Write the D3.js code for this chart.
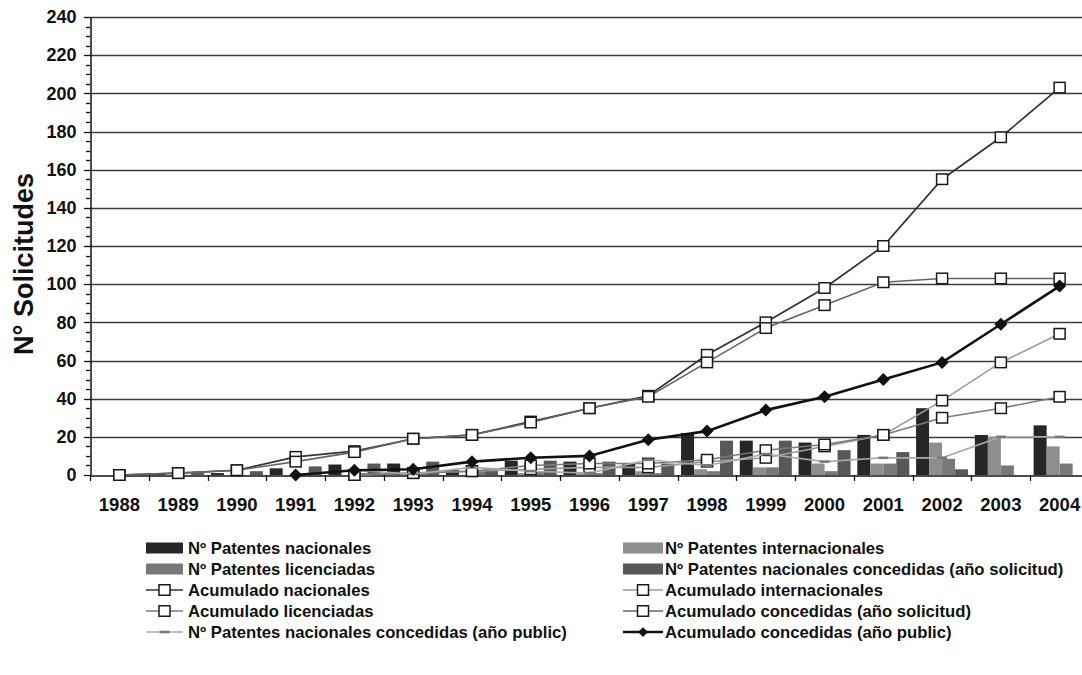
<!DOCTYPE html>
<html>
<head>
<meta charset="utf-8">
<script src="https://cdn.jsdelivr.net/npm/d3@7"></script>
<style>
  html, body { margin: 0; padding: 0; background: #fff; }
  svg { display: block; }
  text { font-family: "Liberation Sans", Arial, sans-serif; fill: #111; }
</style>
</head>
<body>
<svg id="chart" width="1082" height="675"></svg>
<script>
// ---------- DATA ----------
const years = ["1988","1989","1990","1991","1992","1993","1994","1995","1996","1997","1998","1999","2000","2001","2002","2003","2004"];
const yTicks = [0,20,40,60,80,100,120,140,160,180,200,220,240];

// bars
const patNacionales      = [0,1,1,3.5,5.5,6,2.5,7.5,7,6,22,18,17,21,35,21,26];
const patInternacionales = [0,0,0,0,0,1,0,1,1,2,3,4,6,6,17,20,15];
const patLicenciadas     = [0,0,0,0,1,1,2,2,1,1,2,4,2,6,8.5,5,6];
const patConcedidasSol   = [0,1,2,4.5,6,7,3.5,7.5,7,6,18,18,13,12,3,0,0];

// lines
const acumNacionales      = [0,1,2.5,9.5,12.5,19,21,28,35,41.5,63,80,98,120,155,177,203];
const acumInternacionales = [null,null,null,null,0,1,2,3,4,4,7,9,15,21,39,59,74];
const acumLicenciadas     = [null,null,null,null,0,1,2,5,6,6,8,13,16,21,30,35,41];
const acumConcedidasSol   = [0,1,2.5,7,12,19,21,27.5,35,41,59,77,89,101,103,103,103];
const patConcedidasPub    = [null,null,null,0,2.5,0.5,4,2,1,8,5,11,7,9,9,20,20];
const acumConcedidasPub   = [null,null,null,0,2.5,3,7,9,10,18.5,23,34,41,50,59,79,99];

const barSeries = [
  {name: "Nº Patentes nacionales", values: patNacionales, color: "#262626"},
  {name: "Nº Patentes internacionales", values: patInternacionales, color: "#8e8e8e"},
  {name: "Nº Patentes licenciadas", values: patLicenciadas, color: "#787878"},
  {name: "Nº Patentes nacionales concedidas (año solicitud)", values: patConcedidasSol, color: "#585858"}
];
const lineSeries = [
  {name: "Acumulado nacionales", values: acumNacionales, color: "#333333", width: 1.7, marker: "square"},
  {name: "Acumulado internacionales", values: acumInternacionales, color: "#9a9a9a", width: 1.6, marker: "square"},
  {name: "Acumulado licenciadas", values: acumLicenciadas, color: "#7a7a7a", width: 1.6, marker: "square"},
  {name: "Acumulado concedidas (año solicitud)", values: acumConcedidasSol, color: "#666666", width: 1.6, marker: "square"},
  {name: "Nº Patentes nacionales concedidas (año public)", values: patConcedidasPub, color: "#aaaaaa", width: 1.6, marker: "dash"},
  {name: "Acumulado concedidas (año public)", values: acumConcedidasPub, color: "#111111", width: 2.6, marker: "diamond"}
];

// ---------- LAYOUT ----------
const svg = d3.select("#chart");
const plot = {left: 90, right: 1089, top: 17, bottom: 475};

const x0 = d3.scaleBand().domain(years).range([plot.left, plot.right]).padding(0);
const x1 = d3.scaleBand().domain(d3.range(barSeries.length)).range([0, x0.bandwidth()]).paddingInner(0).paddingOuter(0.26);
const y = d3.scaleLinear().domain([0, 240]).range([plot.bottom, plot.top]);
const cx = d => x0(d) + x0.bandwidth() / 2;

// gridlines
svg.append("g").selectAll("line").data(yTicks.filter(t => t > 0)).join("line")
  .attr("x1", plot.left).attr("x2", 1082)
  .attr("y1", d => Math.round(y(d)) + 0.5).attr("y2", d => Math.round(y(d)) + 0.5)
  .attr("stroke", "#3c3c3c").attr("stroke-width", 1.6);

// bars
const gBars = svg.append("g");
barSeries.forEach((s, i) => {
  gBars.append("g").selectAll("rect").data(years).join("rect")
    .attr("x", (d) => x0(d) + x1(i))
    .attr("width", x1.bandwidth())
    .attr("y", (d, j) => y(s.values[j]))
    .attr("height", (d, j) => y(0) - y(s.values[j]))
    .attr("fill", s.color);
});

// y axis (minor ticks)
const minor = d3.range(0, 241, 5);
svg.append("g").selectAll("line").data(minor).join("line")
  .attr("x1", d => d % 20 === 0 ? plot.left - 6 : plot.left - 4).attr("x2", plot.left)
  .attr("y1", d => Math.round(y(d)) + 0.5).attr("y2", d => Math.round(y(d)) + 0.5)
  .attr("stroke", "#111").attr("stroke-width", 1.3);

const yAxis = d3.axisLeft(y).tickValues(yTicks).tickSize(0).tickPadding(14);
const gy = svg.append("g").attr("transform", `translate(${plot.left + 0.5},0)`).call(yAxis);
gy.select(".domain").attr("stroke", "#111").attr("stroke-width", 1.5);
gy.selectAll("text").style("font-size", "18px").style("font-weight", "bold")
  .style("font-family", "'Liberation Sans', Arial, sans-serif").attr("fill", "#111");

// x axis
const xAxis = d3.axisBottom(x0).tickSize(0).tickPadding(22);
const gx = svg.append("g").attr("transform", `translate(0,${plot.bottom + 0.5})`).call(xAxis);
gx.select(".domain").attr("stroke", "#111").attr("stroke-width", 1.5);
gx.selectAll("text").style("font-size", "18.5px").style("font-weight", "bold")
  .style("font-family", "'Liberation Sans', Arial, sans-serif").attr("fill", "#111");
// ticks between categories
svg.append("g").selectAll("line").data(d3.range(years.length + 1)).join("line")
  .attr("x1", i => Math.round(plot.left + i * x0.step()) + 0.5)
  .attr("x2", i => Math.round(plot.left + i * x0.step()) + 0.5)
  .attr("y1", plot.bottom).attr("y2", plot.bottom + 6)
  .attr("stroke", "#111").attr("stroke-width", 1.3);

// y title
svg.append("text")
  .attr("transform", `translate(33,264) rotate(-90)`)
  .attr("text-anchor", "middle")
  .style("font-size", "27px").style("font-weight", "bold")
  .text("N° Solicitudes");

// markers
function drawMarker(g, type, color, px, py, scale) {
  scale = scale || 1;
  if (type === "square") {
    const w = 11 * scale, h = 10.5 * scale;
    g.append("rect").attr("x", px - w/2).attr("y", py - h/2).attr("width", w).attr("height", h)
      .attr("fill", "#fff").attr("stroke", "#1a1a1a").attr("stroke-width", 1.5);
  } else if (type === "diamond") {
    const r = 6.5 * scale;
    g.append("path").attr("d", `M${px},${py - r}L${px + r},${py}L${px},${py + r}L${px - r},${py}Z`)
      .attr("fill", "#111");
  } else if (type === "dash") {
    g.append("line").attr("x1", px - 5).attr("x2", px + 5).attr("y1", py).attr("y2", py)
      .attr("stroke", "#777").attr("stroke-width", 2.5);
  }
}

// lines
const gLines = svg.append("g");
lineSeries.forEach(s => {
  const pts = years.map((yr, j) => ({yr, v: s.values[j]})).filter(p => p.v !== null);
  const line = d3.line().x(p => cx(p.yr)).y(p => y(p.v));
  gLines.append("path").datum(pts).attr("d", line)
    .attr("fill", "none").attr("stroke", s.color).attr("stroke-width", s.width);
  const gm = gLines.append("g");
  pts.forEach(p => drawMarker(gm, s.marker, s.color, cx(p.yr), y(p.v)));
});

// ---------- LEGEND ----------
const legendItems = [
  {type: "bar", s: barSeries[0]},
  {type: "bar", s: barSeries[1]},
  {type: "bar", s: barSeries[2]},
  {type: "bar", s: barSeries[3]},
  {type: "line", s: lineSeries[0]},
  {type: "line", s: lineSeries[1]},
  {type: "line", s: lineSeries[2]},
  {type: "line", s: lineSeries[3]},
  {type: "line", s: lineSeries[4]},
  {type: "line", s: lineSeries[5]}
];
const legCols = [{sx: 146, sw: 37, tx: 188}, {sx: 623, sw: 40, tx: 665}];
const legRow0 = 548, legRowH = 21;
const gLeg = svg.append("g");
legendItems.forEach((it, k) => {
  const col = legCols[k % 2];
  const row = Math.floor(k / 2);
  const ly = legRow0 + row * legRowH;
  if (it.type === "bar") {
    gLeg.append("rect").attr("x", col.sx).attr("y", ly - 5.5).attr("width", col.sw).attr("height", 11)
      .attr("fill", it.s.color);
  } else {
    gLeg.append("line").attr("x1", col.sx).attr("x2", col.sx + col.sw).attr("y1", ly).attr("y2", ly)
      .attr("stroke", it.s.color).attr("stroke-width", it.s.width);
    drawMarker(gLeg, it.s.marker, it.s.color, col.sx + col.sw / 2, ly, it.s.marker === "diamond" ? 0.75 : 1);
  }
  gLeg.append("text").attr("x", col.tx).attr("y", ly + 6)
    .style("font-size", "16.7px").style("font-weight", "bold")
    .text(it.s.name);
});
</script>
</body>
</html>
